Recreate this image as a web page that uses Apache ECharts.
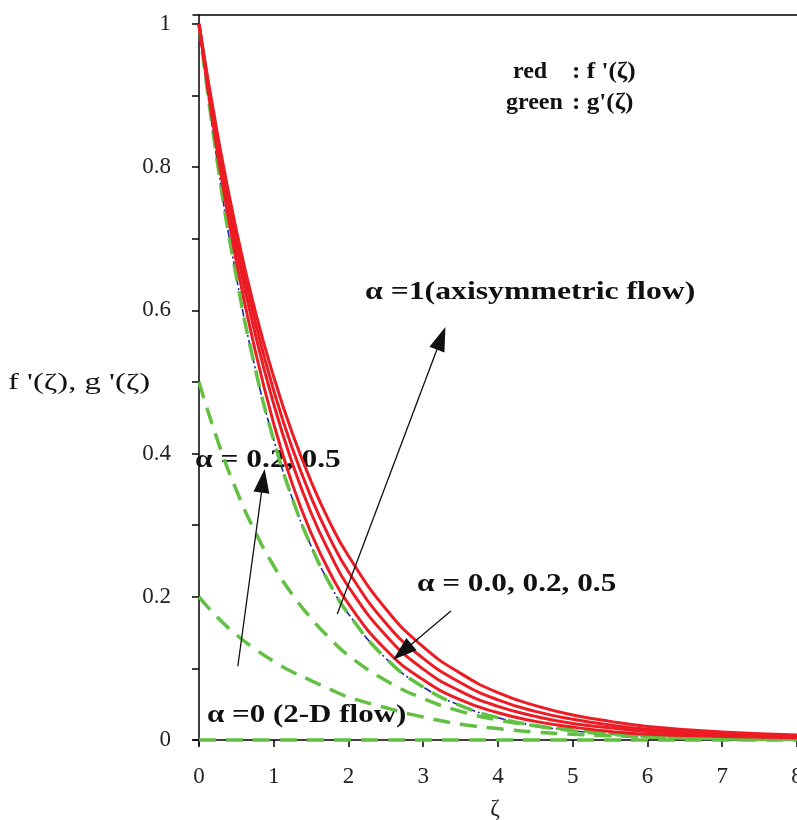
<!DOCTYPE html>
<html>
<head>
<meta charset="utf-8">
<script src="https://cdn.jsdelivr.net/npm/echarts@6/dist/echarts.min.js"></script>
<style>
  html, body { margin: 0; padding: 0; background: #fff; }
  #chart { width: 797px; height: 820px; }
</style>
</head>
<body>
<div id="chart"></div>
<script>
const zeta = [0, 0.25, 0.5, 0.75, 1, 1.25, 1.5, 1.75, 2, 2.5, 3, 3.5, 4, 4.5, 5, 5.5, 6, 7, 8];

// red: f'(ζ), four solid curves (outermost first)
const fRed1 = [1, 0.845, 0.712, 0.600, 0.507, 0.428, 0.361, 0.304, 0.257, 0.183, 0.130, 0.093, 0.066, 0.048, 0.035, 0.026, 0.019, 0.011, 0.007];
const fRed2 = [1, 0.836, 0.700, 0.585, 0.488, 0.407, 0.339, 0.282, 0.235, 0.163, 0.114, 0.080, 0.056, 0.040, 0.029, 0.021, 0.015, 0.009, 0.006];
const fRed3 = [1, 0.828, 0.686, 0.568, 0.469, 0.386, 0.317, 0.261, 0.214, 0.146, 0.099, 0.068, 0.047, 0.033, 0.023, 0.017, 0.012, 0.007, 0.005];
const fRed4 = [1, 0.818, 0.668, 0.545, 0.442, 0.357, 0.289, 0.234, 0.190, 0.126, 0.084, 0.056, 0.038, 0.026, 0.018, 0.012, 0.008, 0.005, 0.003];

// blue dash-dot (α = 1), green dashed g'(ζ) curves
const blueA1 = [1, 0.804, 0.647, 0.520, 0.419, 0.337, 0.271, 0.218, 0.176, 0.114, 0.074, 0.048, 0.031, 0.020, 0.013, 0.008, 0.005, 0.002, 0.001];
const gA1 = [1, 0.804, 0.647, 0.520, 0.419, 0.337, 0.271, 0.218, 0.176, 0.114, 0.074, 0.048, 0.031, 0.020, 0.013, 0.008, 0.005, 0.002, 0.001];
const gA05 = [0.5, 0.418, 0.349, 0.291, 0.243, 0.203, 0.170, 0.142, 0.118, 0.083, 0.058, 0.040, 0.028, 0.020, 0.014, 0.010, 0.007, 0.003, 0.002];
const gA02 = [0.2, 0.171, 0.147, 0.127, 0.110, 0.095, 0.083, 0.071, 0.060, 0.045, 0.032, 0.022, 0.016, 0.011, 0.008, 0.006, 0.004, 0.002, 0.001];
const gA0 = [0, 0, 0, 0, 0, 0, 0, 0, 0, 0, 0, 0, 0, 0, 0, 0, 0, 0, 0];

const xTicks = [0, 1, 2, 3, 4, 5, 6, 7, 8];
const yLabels = [0, 0.2, 0.4, 0.6, 0.8, 1];
const yTicks = [0, 0.1, 0.2, 0.3, 0.4, 0.5, 0.6, 0.7, 0.8, 0.9, 1];

// arrows in data coordinates: [start, head]
const arrows = [
  [[1.85, 0.176], [3.24, 0.561]],
  [[0.52, 0.103], [0.857, 0.362]],
  [[3.37, 0.180], [2.72, 0.123]]
];

const RED = '#ec1c24';
const GREEN = '#62c043';
const serif = '"Liberation Serif", "DejaVu Serif", serif';

const pairs = vals => zeta.map((z, i) => [z, vals[i]]);

// stretched bold text like the scanned figure
function note(x, y, text, size, sx) {
  return {
    type: 'text', x: x, y: y, scaleX: sx, z: 1,
    style: { text: text, font: 'bold ' + size + 'px ' + serif, fill: '#111', verticalAlign: 'middle' }
  };
}

const chart = echarts.init(document.getElementById('chart'));

const redSeries = [fRed4, fRed3, fRed2, fRed1].map(v => ({
  type: 'line', data: pairs(v), smooth: true, showSymbol: false,
  lineStyle: { color: RED, width: 3 }, z: 4
}));

const greenSeries = [gA0, gA02, gA05, gA1].map(v => ({
  type: 'line', data: pairs(v), smooth: true, showSymbol: false,
  lineStyle: { color: GREEN, width: 3.5, type: [17, 10] }, z: 3
}));

const option = {
  animation: false,
  backgroundColor: '#fff',
  grid: { left: 193, right: 0, top: 15, bottom: 75, outerBoundsMode: 'none' },
  xAxis: [
    {
      type: 'value', min: -0.08, max: 8.0,
      name: 'ζ', nameLocation: 'middle', nameGap: 52,
      nameTextStyle: { fontFamily: serif, fontSize: 23, color: '#222' },
      axisLine: { lineStyle: { color: '#000', width: 1.5 } },
      axisTick: { customValues: xTicks, length: 7, lineStyle: { color: '#000', width: 1.5 } },
      axisLabel: { customValues: xTicks, margin: 20, fontFamily: serif, fontSize: 23, color: '#222' },
      splitLine: { show: false }
    },
    {
      // top frame line only
      type: 'value', position: 'top', min: -0.08, max: 8.0,
      axisLine: { lineStyle: { color: '#000', width: 1.5 } },
      axisTick: { show: false }, axisLabel: { show: false }, splitLine: { show: false }
    }
  ],
  yAxis: {
    type: 'value', min: -0.007, max: 1.0126,
    axisLine: { lineStyle: { color: '#000', width: 1.5 } },
    axisTick: { customValues: yTicks, length: 7, lineStyle: { color: '#000', width: 1.5 } },
    axisLabel: { customValues: yLabels, margin: 22, fontFamily: serif, fontSize: 23, color: '#222' },
    splitLine: { show: false }
  },
  series: [
    ...greenSeries,
    {
      type: 'line', data: pairs(blueA1), smooth: true, showSymbol: false,
      lineStyle: { color: '#1b2a9a', width: 1.6, type: [8, 3, 2, 3] }, z: 2
    },
    ...redSeries,
    {
      type: 'line', data: [], silent: true,
      markLine: {
        silent: true, animation: false,
        symbol: ['none', 'triangle'], symbolSize: [16, 24],
        label: { show: false },
        lineStyle: { color: '#111', width: 1.3, type: 'solid' },
        data: arrows.map(a => [{ coord: a[0] }, { coord: a[1] }])
      },
      z: 6
    }
  ],
  graphic: [
    {
      type: 'text', x: 8, y: 383, scaleX: 1.42,
      style: { text: "f '(ζ), g '(ζ)", font: '23px ' + serif, fill: '#111', verticalAlign: 'middle' }
    },
    note(513, 72, 'red', 24, 1.0),
    note(572, 72, ": f '(ζ)", 24, 1.05),
    note(506, 103, 'green', 24, 1.0),
    note(572, 103, ": g'(ζ)", 24, 1.05),
    note(365, 293, 'α =1(axisymmetric flow)', 25, 1.27),
    note(195, 461, 'α = 0.2, 0.5', 25, 1.26),
    note(417, 585, 'α = 0.0, 0.2, 0.5', 25, 1.25),
    note(207, 716, 'α =0 (2-D flow)', 25, 1.24)
  ]
};

chart.setOption(option);
</script>
</body>
</html>
